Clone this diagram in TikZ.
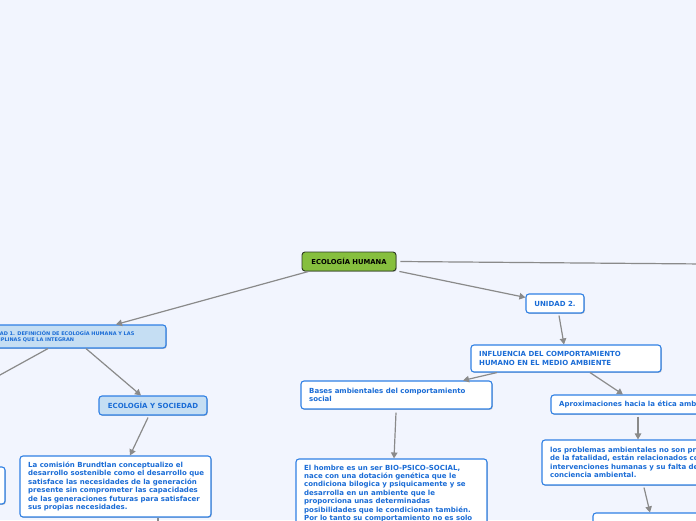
\documentclass[tikz,border=0pt]{standalone}
\usepackage{fontspec}
\setmainfont{DejaVu Sans}
\usetikzlibrary{arrows.meta,shadows,calc}
\definecolor{bg}{HTML}{F2F5FE}
\definecolor{bblue}{HTML}{2F80E4}
\definecolor{tblue}{HTML}{1A6CD6}
\definecolor{lblue}{HTML}{C5DEF3}
\definecolor{lgreen}{HTML}{86BF3E}
\definecolor{dborder}{HTML}{2E3A22}
\definecolor{cgray}{HTML}{8A8A8A}
\begin{document}
\begin{tikzpicture}[x=1pt,y=-1pt,
 box/.style={draw=bblue, line width=1.1pt, rounded corners=3pt, fill=white, inner sep=0pt,
   drop shadow={shadow xshift=0.8pt, shadow yshift=-0.9pt, opacity=0.22, fill=black}},
 lbox/.style={box, fill=lblue},
 rootbox/.style={draw=dborder, line width=0.9pt, rounded corners=3pt, fill=lgreen, inner sep=0pt,
   font=\fontsize{6.8}{8}\selectfont\bfseries, text=black,
   drop shadow={shadow xshift=0.8pt, shadow yshift=-0.9pt, opacity=0.22, fill=black}},
 txt/.style={text=tblue, font=\fontsize{7}{8.4}\selectfont\bfseries, inner sep=0pt, align=left},
 smalltxt/.style={text=tblue, font=\fontsize{5}{6.3}\selectfont\bfseries, inner sep=0pt, align=left},
 link/.style={draw=cgray, line width=1.2pt, -{Triangle[length=6pt,width=6.5pt]}},
 plainlink/.style={draw=cgray, line width=1.2pt},
]
\useasboundingbox (0,0) rectangle (696,520);
\fill[bg] (0,0) rectangle (696,520);
\begin{scope}
\clip (0,0) rectangle (696,520);
% nodes
\node[rootbox, minimum width=94pt, minimum height=19pt] (eh) at (349,261.5) {ECOLOGÍA HUMANA};

\node[lbox, minimum width=188pt, minimum height=23pt] (u1) at (72,336.5) {};
\node[smalltxt, anchor=west] (u1t) at (-14.5,336.5) {UNIDAD 1. DEFINICIÓN DE ECOLOGÍA HUMANA Y LAS\\DISCIPLINAS QUE LA INTEGRAN};

\node[lbox, minimum width=108pt, minimum height=19pt, txt] (es) at (153,405.5) {ECOLOGÍA Y SOCIEDAD};

\node[box, minimum width=191pt, minimum height=61pt] (br) at (115.5,486.5) {};
\node[txt, anchor=west] (brt) at (28,486.5) {La comisión Brundtlan conceptualizo el\\desarrollo sostenible como el desarrollo que\\satisface las necesidades de la generación\\presente sin comprometer las capacidades\\de las generaciones futuras para satisfacer\\sus propias necesidades.};

\node[box, minimum width=155pt, minimum height=37pt] (lp) at (-72.5,485.5) {};

\node[box, minimum width=58pt, minimum height=19pt, txt] (u2) at (555,303.5) {UNIDAD 2.};

\node[box, minimum width=190pt, minimum height=27pt] (inf) at (566,358.5) {};
\node[txt, anchor=west] (inft) at (479,358.5) {INFLUENCIA DEL COMPORTAMIENTO\\HUMANO EN EL MEDIO AMBIENTE};

\node[box, minimum width=191pt, minimum height=28pt] (bases) at (396.5,395) {};
\node[txt, anchor=west] (basest) at (309,395) {Bases ambientales del comportamiento\\social};

\node[box, minimum width=209pt, minimum height=19pt] (apr) at (655.5,404.5) {};
\node[txt, anchor=west] (aprt) at (559,404.5) {Aproximaciones hacia la ética ambiental};

\node[box, minimum width=191pt, minimum height=101pt] (hom) at (391.5,509.5) {};
\node[txt, anchor=north west] (homt) at (304,464.5) {El hombre es un ser BIO-PSICO-SOCIAL,\\nace con una dotación genética que le\\condiciona bilogica y psiquicamente y se\\desarrolla en un ambiente que le\\proporciona unas determinadas\\posibilidades que le condicionan también.\\Por lo tanto su comportamiento no es solo};

\node[box, minimum width=218pt, minimum height=45pt] (prob) at (651,462.5) {};
\node[txt, anchor=west] (probt) at (550,462.5) {los problemas ambientales no son producto\\de la fatalidad, están relacionados con las\\intervenciones humanas y su falta de\\conciencia ambiental.};

\node[box, minimum width=197pt, minimum height=47pt] (bot) at (691.5,536.5) {};

% free ends
\coordinate (offr) at (705,264);
\coordinate (offl) at (-20,386);
\coordinate (offd) at (158,530);

% connectors
\draw[link] ([xshift=7pt]eh.south west) -- ([xshift=44pt]u1.north);
\draw[link] ([xshift=3pt]eh.south east) -- ([yshift=-4pt]u2.north west);
\draw[plainlink] ([xshift=4pt]eh.east) -- (offr);
\draw[plainlink] ([xshift=-24pt]u1.south) -- (offl);
\draw[link] ([xshift=14pt]u1.south) -- ([xshift=-12pt]es.north);
\draw[link] ([xshift=-5pt,yshift=-2pt]es.south) -- ([xshift=14.5pt]br.north);
\draw[plainlink] ([xshift=42.5pt]br.south) -- (offd);
\draw[link] ([xshift=4pt,yshift=-2pt]u2.south) -- ([xshift=-2pt]inf.north);
\draw[link] ([xshift=-69pt]inf.south) -- ([xshift=66.5pt]bases.north);
\draw[link] ([xshift=24pt]inf.south) -- ([xshift=-32.5pt]apr.north);
\draw[link] ([xshift=-0.5pt,yshift=-3pt]bases.south) -- ([xshift=2.5pt]hom.north);
\draw[link] ([xshift=-17.5pt,yshift=-2pt]apr.south) -- ([xshift=-13pt]prob.north);
\draw[link] ([xshift=-7pt,yshift=-2pt]prob.south) -- ([xshift=-41.5pt]bot.north);
\end{scope}
\end{tikzpicture}
\end{document}
